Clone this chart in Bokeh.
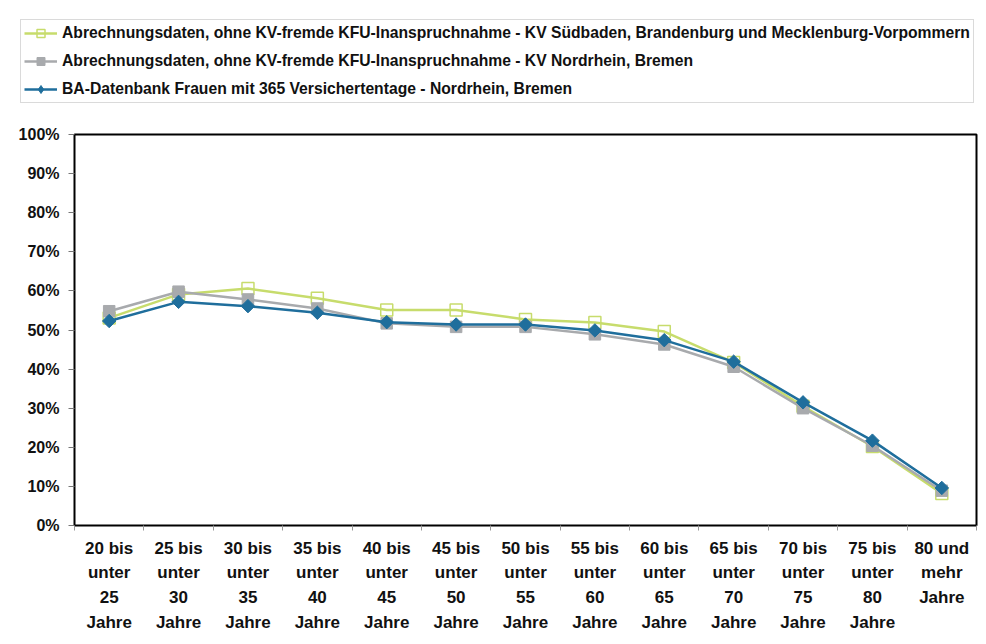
from bokeh.plotting import figure
from bokeh.models import Range1d, FixedTicker, Legend, LegendItem, LinearAxis
from bokeh.layouts import column
from bokeh.embed import file_html
from bokeh.resources import INLINE
import math

categories = ["20 bis\nunter\n25\nJahre", "25 bis\nunter\n30\nJahre", "30 bis\nunter\n35\nJahre",
              "35 bis\nunter\n40\nJahre", "40 bis\nunter\n45\nJahre", "45 bis\nunter\n50\nJahre",
              "50 bis\nunter\n55\nJahre", "55 bis\nunter\n60\nJahre", "60 bis\nunter\n65\nJahre",
              "65 bis\nunter\n70\nJahre", "70 bis\nunter\n75\nJahre", "75 bis\nunter\n80\nJahre",
              "80 und\nmehr\nJahre"]
sued_bb_mv = [53.1, 59.1, 60.6, 58.1, 55.1, 55.1, 52.7, 51.9, 49.6, 41.7, 30.5, 20.2, 8.2]
nordrhein_bremen = [54.8, 59.8, 57.8, 55.5, 51.7, 50.8, 50.8, 48.9, 46.3, 40.6, 30.0, 20.4, 8.9]
ba_datenbank = [52.3, 57.2, 56.1, 54.4, 52.0, 51.4, 51.4, 49.9, 47.4, 41.9, 31.5, 21.7, 9.6]
y_ticks = [0, 10, 20, 30, 40, 50, 60, 70, 80, 90, 100]
labels = ["Abrechnungsdaten, ohne KV-fremde KFU-Inanspruchnahme - KV Südbaden, Brandenburg und Mecklenburg-Vorpommern",
          "Abrechnungsdaten, ohne KV-fremde KFU-Inanspruchnahme - KV Nordrhein, Bremen",
          "BA-Datenbank Frauen mit 365 Versichertentage - Nordrhein, Bremen"]

x = list(range(1, len(categories) + 1))
FONT = "Liberation Sans"
GREEN = "#c7dc6c"
GRAY = "#a8aaad"
BLUE = "#1f6e9c"

# ---------------- main chart ----------------
p = figure(width=978, height=518, output_backend="svg", toolbar_location=None,
           x_range=Range1d(0.5, len(categories) + 0.5), y_range=Range1d(0, 100),
           x_axis_type=None, y_axis_type=None,
           min_border_left=74, min_border_right=2, min_border_top=16, min_border_bottom=111)
p.frame_align = False
p.background_fill_color = "white"
p.border_fill_color = "white"
p.outline_line_color = "black"
p.outline_line_width = 2

yax = LinearAxis(ticker=FixedTicker(ticks=y_ticks))
yax.major_label_overrides = {t: f"{t}%" for t in y_ticks}
yax.major_label_text_font = FONT
yax.major_label_text_font_style = "bold"
yax.major_label_text_font_size = "16px"
yax.major_label_text_color = "#111111"
yax.major_label_standoff = 9
yax.axis_line_color = None
yax.major_tick_in = 0
yax.major_tick_out = 6
yax.major_tick_line_color = "#777777"
yax.minor_tick_line_color = None
p.add_layout(yax, "left")

xax = LinearAxis(ticker=FixedTicker(ticks=x, minor_ticks=[i + 0.5 for i in range(0, len(categories) + 1)]))
xax.major_label_overrides = {i: c for i, c in zip(x, categories)}
xax.major_label_text_font = FONT
xax.major_label_text_font_style = "bold"
xax.major_label_text_font_size = "17px"
xax.major_label_text_color = "#111111"
xax.major_label_text_line_height = 1.31
xax.major_label_standoff = 8
xax.axis_line_color = None
xax.major_tick_line_color = None
xax.major_tick_out = 0
xax.major_tick_in = 0
xax.minor_tick_in = 0
xax.minor_tick_out = 5
xax.minor_tick_line_color = "#999999"
p.add_layout(xax, "below")

p.ygrid.ticker = FixedTicker(ticks=y_ticks)
p.ygrid.grid_line_color = "#c8c8c8"
p.ygrid.grid_line_width = 1.5
p.xgrid.grid_line_color = None

p.line(x, sued_bb_mv, line_color=GREEN, line_width=2.5)
p.scatter(x, sued_bb_mv, marker="square", size=12, fill_color="white", fill_alpha=0,
          line_color=GREEN, line_width=1.5)
p.line(x, nordrhein_bremen, line_color=GRAY, line_width=2.5)
p.scatter(x, nordrhein_bremen, marker="square", size=11.5, fill_color=GRAY, line_color=GRAY)
p.line(x, ba_datenbank, line_color=BLUE, line_width=2.5)
p.scatter(x, ba_datenbank, marker="square", size=9.5, angle=math.pi / 4,
          fill_color=BLUE, line_color=BLUE)

# ---------------- legend strip above the chart ----------------
top = figure(width=978, height=118, output_backend="svg", toolbar_location=None,
             x_range=Range1d(100, 101), y_range=Range1d(1000, 1001),
             x_axis_type=None, y_axis_type=None,
             min_border_left=0, min_border_right=0, min_border_top=0, min_border_bottom=0)
top.frame_align = False
top.outline_line_color = None
top.xgrid.grid_line_color = None
top.ygrid.grid_line_color = None
top.border_fill_color = "white"
top.background_fill_color = "white"

tl1 = top.line(x, sued_bb_mv, line_color=GREEN, line_width=2.5)
ts1 = top.scatter(x, sued_bb_mv, marker="square", size=9, fill_color="white", fill_alpha=0,
                  line_color=GREEN, line_width=1.5)
tl2 = top.line(x, nordrhein_bremen, line_color=GRAY, line_width=2.5)
ts2 = top.scatter(x, nordrhein_bremen, marker="square", size=9, fill_color=GRAY, line_color=GRAY)
tl3 = top.line(x, ba_datenbank, line_color=BLUE, line_width=2.5)
ts3 = top.scatter(x, ba_datenbank, marker="diamond", size=14, fill_color=BLUE, line_color=BLUE)

legend = Legend(items=[LegendItem(label=labels[0], renderers=[tl1, ts1]),
                       LegendItem(label=labels[1], renderers=[tl2, ts2]),
                       LegendItem(label=labels[2], renderers=[tl3, ts3])],
                location=(20, 15))
legend.label_text_font = FONT
legend.label_text_font_style = "bold"
legend.label_text_font_size = "15.7px"
legend.label_text_color = "#111111"
legend.glyph_width = 33
legend.glyph_height = 20
legend.label_height = 20
legend.spacing = 8
legend.padding = 3
legend.margin = 0
legend.label_standoff = 5
legend.border_line_color = "#b5b5b5"
legend.border_line_width = 1
legend.background_fill_color = "white"
top.add_layout(legend, "center")

layout = column(top, p, spacing=0)
open("out.html", "w").write(file_html(layout, INLINE))
